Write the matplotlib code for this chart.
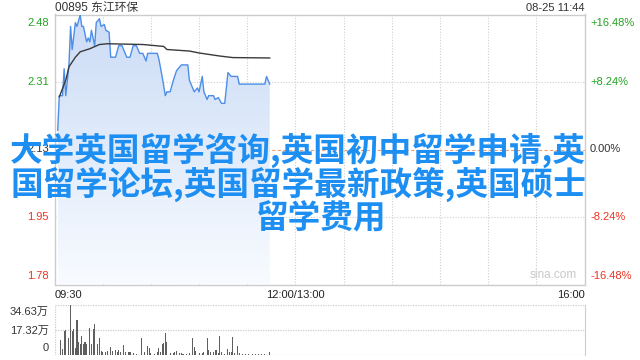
import numpy as np
import matplotlib
matplotlib.use("Agg")
import matplotlib.pyplot as plt
from matplotlib.colors import LinearSegmentedColormap
from matplotlib.patches import Polygon

# --- data ---
stock_title = "00895 东江环保"
stamp = "08-25 11:44"
prev_close = 2.13
pct_range = 0.1648

# minutes since 09:30 (trading time, lunch break removed) and price
price_min = [2, 3, 5, 6, 7, 9, 10, 11, 13, 14, 16, 17, 18, 20, 21, 22, 23, 25,
             26, 28, 29, 31, 32, 34, 35, 38, 40, 42, 45, 47, 49, 51, 53, 55,
             57, 58, 64, 65, 67, 69, 70, 72, 74, 76, 79, 83, 84, 86, 87, 89,
             90, 92, 93, 95, 96, 99, 100, 102, 104, 106, 108, 110, 114, 115,
             131, 132, 134]
price_val = [2.18, 2.27, 2.27, 2.34, 2.27, 2.35, 2.45, 2.39, 2.46, 2.45, 2.48,
             2.45, 2.45, 2.41, 2.42, 2.41, 2.44, 2.40, 2.46, 2.47, 2.45, 2.455,
             2.44, 2.435, 2.37, 2.37, 2.40, 2.40, 2.37, 2.37, 2.40, 2.40, 2.38,
             2.38, 2.36, 2.38, 2.38, 2.365, 2.32, 2.27, 2.28, 2.28, 2.31, 2.335,
             2.35, 2.35, 2.31, 2.29, 2.28, 2.29, 2.28, 2.32, 2.28, 2.26, 2.27,
             2.27, 2.26, 2.265, 2.25, 2.25, 2.33, 2.32, 2.32, 2.30, 2.30, 2.32,
             2.30]

avg_min = [3, 7, 9, 13, 16, 22, 28, 33, 55, 68, 70, 84, 90, 103, 111, 134]
avg_val = [2.267, 2.31, 2.345, 2.37, 2.384, 2.392, 2.403, 2.405, 2.403, 2.398,
           2.39, 2.386, 2.381, 2.373, 2.369, 2.368]

# volume bars, in 万
vol_min = [4, 5, 6, 7, 9, 10, 11, 12, 13, 14, 15, 16, 17, 18, 19, 20, 22, 23,
           24, 25, 27, 28, 29, 30, 32, 33, 35, 36, 38, 39, 40, 41, 43, 44, 46,
           47, 49, 51, 54, 56, 58, 59, 60, 62, 64, 65, 66, 67, 68, 69, 70, 72,
           74, 75, 76, 78, 79, 80, 82, 84, 86, 87, 88, 90, 92, 93, 95, 96, 97,
           99, 100, 101, 102, 103, 104, 106, 108, 109, 110, 111, 112, 114, 115,
           117, 119, 121, 123, 125, 127, 129, 131, 134]
vol_val = [10.1, 3.7, 16.4, 16.9, 11.7, 34.63, 16.4, 17.6, 4.7, 24.1, 8.9, 7.5,
           12.9, 7.0, 8.4, 7.5, 18.7, 7.3, 17.6, 21.1, 7.3, 11.7, 2.3, 1.4, 1.9,
           2.3, 5.2, 2.3, 2.8, 1.9, 3.3, 1.4, 6.6, 1.4, 1.4, 1.4, 0.9, 0.5, 11.2,
           1.4, 6.1, 4.2, 0.9, 0.5, 1.4, 4.2, 1.4, 7.0, 8.0, 14.8, 8.9, 0.9, 0.9,
           1.9, 2.3, 0.9, 0.9, 0.5, 0.5, 0.9, 11.2, 5.2, 2.3, 0.9, 0.9, 1.9,
           11.2, 2.8, 1.4, 1.9, 2.8, 2.8, 0.9, 13.1, 1.9, 0.5, 3.7, 1.9, 1.4,
           12.4, 0.9, 6.1, 0.9, 0.5, 0.5, 0.5, 0.5, 0.5, 0.5, 0.5, 0.5, 1.4]
vol_ticks = ["34.63万", "17.32万", "0"]

time_labels = ["09:30", "12:00/13:00", "16:00"]
time_pos = [0, 150, 330]
grid_minutes = list(range(30, 330, 30))

overlay_lines = ["大学英国留学咨询,英国初中留学申请,英",
                 "国留学论坛,英国留学最新政策,英国硕士",
                 "留学费用"]

# --- layout helpers (pixel rectangles on a 640x360 canvas) ---
W, H = 640, 360
GREEN, RED, DARK = "#22a322", "#ee3322", "#333333"
LATIN = ["Liberation Sans", "Noto Sans CJK SC", "DejaVu Sans"]


def rect(l, t, r, b):
    return [l / W, 1 - b / H, (r - l) / W, (b - t) / H]


fig = plt.figure(figsize=(6.4, 3.6), dpi=100)
ax = fig.add_axes(rect(54.5, 14.5, 584.5, 284.5))
vax = fig.add_axes(rect(54.5, 305, 584.5, 354.5))

lo = prev_close * (1 - pct_range)
hi = prev_close * (1 + pct_range)

# --- price panel ---
for sp in ax.spines.values():
    sp.set_color("#cccccc")
    sp.set_linewidth(1)
ax.set_xticks([])
ax.set_yticks([])

for m in grid_minutes:
    ax.axvline(m, color="#cfcfcf", lw=0.8, ls=(0, (1, 1.5)), zorder=1)
for lvl in [prev_close * (1 + pct_range / 2), prev_close * (1 - pct_range / 2)]:
    ax.axhline(lvl, color="#cfcfcf", lw=0.8, ls=(0, (1, 1.5)), zorder=1)
ax.axhline(prev_close, color="#f2a070", lw=0.8, ls=(0, (3, 2)), zorder=1)

# gradient fill under the price line
cmap = LinearSegmentedColormap.from_list("fill", ["#cbdcf6", "#f8fbff"])
grad = np.linspace(0, 1, 256).reshape(-1, 1)
im = ax.imshow(grad, extent=[price_min[0], price_min[-1], lo, hi],
               aspect="auto", cmap=cmap, origin="upper", zorder=2)
verts = [(price_min[0], lo)] + list(zip(price_min, price_val)) + [(price_min[-1], lo)]
patch = Polygon(verts, closed=True, facecolor="none", edgecolor="none")
ax.add_patch(patch)
im.set_clip_path(patch)

ax.plot(price_min, price_val, color="#4d8ee8", lw=1.0, zorder=3)
ax.plot(avg_min, avg_val, color="#3a3a3a", lw=1.0, zorder=3)
ax.set_xlim(0, 330)
ax.set_ylim(lo, hi)

# price / percent labels
levels = [hi, prev_close * (1 + pct_range / 2), prev_close,
          prev_close * (1 - pct_range / 2), lo]
colors = [GREEN, GREEN, DARK, RED, RED]
offsets = [-6, 0, 0, 0, 6]
for lvl, c, off in zip(levels, colors, offsets):
    pct = (lvl / prev_close - 1) * 100
    ptxt = f"{lvl:.2f}"
    rtxt = f"{pct:+.2f}%" if abs(pct) > 0.005 else "0.00%"
    ax.annotate(ptxt, xy=(0, lvl), xycoords=("axes fraction", "data"),
                xytext=(-4, off), textcoords="offset points", ha="right",
                va="center", color=c, fontsize=8, family=LATIN)
    ax.annotate(rtxt, xy=(1, lvl), xycoords=("axes fraction", "data"),
                xytext=(4, off), textcoords="offset points", ha="left",
                va="center", color=c, fontsize=8, family=LATIN)

for lbl, pos in zip(time_labels, time_pos):
    ha = "left" if pos == 0 else ("right" if pos == 330 else "center")
    ax.annotate(lbl, xy=(pos, 0), xycoords=("data", "axes fraction"),
                xytext=(0, -4), textcoords="offset points", ha=ha, va="top",
                color="#222222", fontsize=8, family=LATIN)

ax.text(0.985, 0.012, "sina.com", transform=ax.transAxes, ha="right",
        va="bottom", color="#c8c8c8", fontsize=8.5, family=LATIN, zorder=4)

fig.text(55 / W, 1 - 8 / H, stock_title, ha="left", va="center",
         color=DARK, fontsize=8.5, family=LATIN)
fig.text(584 / W, 1 - 8 / H, stamp, ha="right", va="center",
         color=DARK, fontsize=8, family=LATIN)

# --- volume panel ---
vmax = max(vol_val)
vax.bar(vol_min, vol_val, width=0.65, color="#5f5f5f", zorder=3)
vax.set_xlim(0, 330)
vax.set_ylim(0, vmax)
vax.set_xticks([])
vax.set_yticks([])
for sp in ["top", "bottom", "left"]:
    vax.spines[sp].set_visible(False)
vax.spines["right"].set_color("#cccccc")
for lvl in [0, vmax / 2, vmax]:
    vax.axhline(lvl, color="#cccccc", lw=0.9, ls=(0, (1, 1)), zorder=1)
vax.axvline(0, color="#cccccc", lw=0.9, ls=(0, (1, 1)), zorder=1)
for lbl, lvl, off in zip(vol_ticks, [vmax, vmax / 2, 0], [-5, -1, 5]):
    vax.annotate(lbl, xy=(0, lvl), xycoords=("axes fraction", "data"),
                 xytext=(-4, off), textcoords="offset points", ha="right",
                 va="center", color=DARK, fontsize=8, family=LATIN)

# --- big overlay text ---
cjk = ["Noto Sans CJK SC", "DejaVu Sans"]
for line, cx, cy in zip(overlay_lines, [298, 298, 321], [150, 185, 219]):
    fig.text(cx / W, 1 - cy / H, line, ha="center", va="center",
             color="#1e8ff2", fontsize=23.5, fontweight="bold", family=cjk,
             zorder=10)

fig.savefig("out.png", dpi=100)
